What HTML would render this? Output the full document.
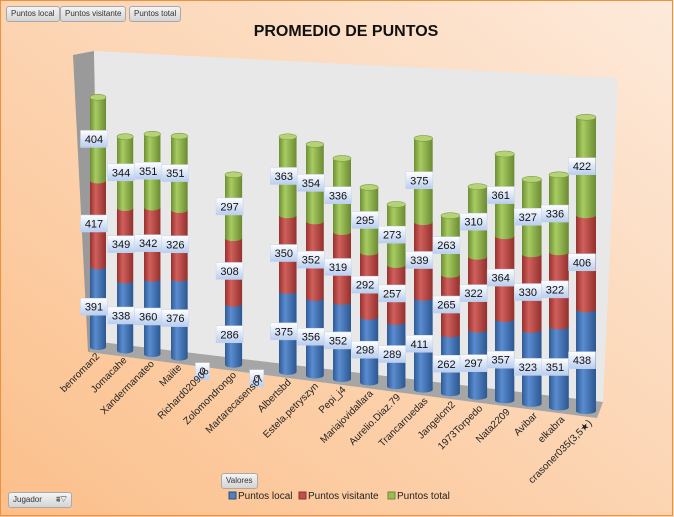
<!DOCTYPE html>
<html><head><meta charset="utf-8"><style>
html,body{margin:0;padding:0}
body{width:674px;height:517px;overflow:hidden;font-family:"Liberation Sans",sans-serif}
.btn{position:absolute;height:14px;border:1px solid #a9a9a9;border-radius:3px;background:linear-gradient(#f4f4f4,#d4d4d4);font-size:8px;line-height:14px;padding:0 4px;color:#333}
</style></head><body>
<svg width="674" height="517" style="position:absolute;left:0;top:0">
<defs>
<linearGradient id="bg" x1="1" y1="0" x2="0" y2="1"><stop offset="0" stop-color="#fdeadb"/><stop offset="1" stop-color="#fbbf8a"/></linearGradient>
<linearGradient id="gb" x1="0" x2="1"><stop offset="0" stop-color="#2f5b95"/><stop offset="0.35" stop-color="#5a8cd0"/><stop offset="1" stop-color="#2c5790"/></linearGradient>
<linearGradient id="gr" x1="0" x2="1"><stop offset="0" stop-color="#98302e"/><stop offset="0.35" stop-color="#d0605c"/><stop offset="1" stop-color="#93302d"/></linearGradient>
<linearGradient id="gg" x1="0" x2="1"><stop offset="0" stop-color="#6d8f33"/><stop offset="0.35" stop-color="#a8cc62"/><stop offset="1" stop-color="#6a8a31"/></linearGradient>
<linearGradient id="lb" x1="0" y1="0" x2="0" y2="1"><stop offset="0" stop-color="#ffffff"/><stop offset="1" stop-color="#b8cdf0"/></linearGradient>
</defs>
<rect x="0" y="0" width="674" height="517" fill="url(#bg)"/>
<rect x="0.5" y="0.5" width="672" height="515" fill="none" stroke="#f0903c"/>
<text x="346" y="36" text-anchor="middle" font-size="16" font-weight="bold" fill="#111">PROMEDIO DE PUNTOS</text>
<polygon points="73,55 94,51 100,342 88,352" fill="#9a9a9a"/>
<polygon points="94,51 618,78 603,402 100,342" fill="#e8e8e8"/>
<polygon points="100,342 603,402 597,418 88,352" fill="#a6a6a6"/>
<g id="plot"></g>
<g>
<rect x="229" y="492" width="7" height="7" fill="#4f81bd" stroke="#2c4d75"/>
<text x="238" y="499" font-size="10" fill="#222">Puntos local</text>
<rect x="299" y="492" width="7" height="7" fill="#c0504d" stroke="#8c3230"/>
<text x="308" y="499" font-size="10" fill="#222">Puntos visitante</text>
<rect x="388" y="492" width="7" height="7" fill="#9bbb59" stroke="#6b8a35"/>
<text x="397" y="499" font-size="10" fill="#222">Puntos total</text>
</g>
</svg>
<div class="btn" style="left:6px;top:6px">Puntos local</div>
<div class="btn" style="left:60px;top:6px">Puntos visitante</div>
<div class="btn" style="left:129px;top:6px">Puntos total</div>
<div class="btn" style="left:221px;top:473px">Valores</div>
<div class="btn" style="left:8px;top:492px;width:54px">Jugador <span style="float:right">⩩▽</span></div>
<script>
const categories=["benroman2","Jomacahe","Xandermanateo","Maiite","Richard020906","Zolomondrongo","Martarecasens67","Albertsbd","Estela.petryszyn","Pepi_j4","Mariajovidallara","Aurelio.Diaz.79","Trancarruedas","Jangelcm2","1973Torpedo","Nata2209","Avibar","elkabra","crasoner035(3,5★)"];
const local=[391,338,360,376,0,286,0,375,356,352,298,289,411,262,297,357,323,351,438];
const visitante=[417,349,342,326,0,308,0,350,352,319,292,257,339,265,322,364,330,322,406];
const total=[404,344,351,351,0,297,0,363,354,336,295,273,375,263,310,361,327,336,422];
const NS="http://www.w3.org/2000/svg";
const g=document.getElementById("plot");
const n=categories.length;
function bx(i){return 98+i*(586-98)/(n-1);}
function by(i){return 347+i*(411-347)/(n-1);}
function ky(i){return 0.206+i*(0.232-0.206)/(n-1);}
function cw(i){return 16+i*4/(n-1);}
function mk(t,a){const e=document.createElementNS(NS,t);for(const k in a)e.setAttribute(k,a[k]);g.appendChild(e);return e;}
const series=[[local,"url(#gb)","#3f6faa","local"],[visitante,"url(#gr)","#b04542","visitante"],[total,"url(#gg)","#8fb350","total"]];
for(let i=0;i<n;i++){
  const x=bx(i),y0=by(i),k=ky(i),w=cw(i);
  let y=y0;const labs=[];
  series.forEach(s=>{
    const v=s[0][i];if(v<=0)return;
    const h=v*k;
    const top=y-h;
    const r=mk("rect",{x:x-w/2,y:top,width:w,height:h,fill:s[1]});
    
    
    const el=mk("ellipse",{cx:x,cy:y,rx:w/2,ry:3,fill:s[1]});
    
    
    labs.push([v,(y+top)/2]);
    y=top;
  });
  if(y<y0){
    const cap=mk("ellipse",{cx:x,cy:y,rx:w/2,ry:3,fill:"#b4d276",stroke:"#7c9c40","stroke-width":"0.6"});
    
    
  } else {
    labs.push([0,y0+10]);
  }
  labs.forEach(l=>{
    const bw=l[0]===0?14:27;
    const bxp=x-4-bw/2,byp=l[1]-8.5;
    const rb=mk("rect",{x:bxp,y:byp,width:bw,height:17,fill:"url(#lb)",stroke:"#c8d4e8","stroke-width":"0.5"});
    
    
    const t=mk("text",{x:bxp+bw/2,y:byp+12.5,"text-anchor":"middle","font-size":"11",fill:"#111"});
    t.textContent=l[0];
    
    
  });
  const lx=x+2+i*0.25,ly=y0+10+i*0.15;
  const ct=mk("text",{x:lx,y:ly,"text-anchor":"end","font-size":"10",fill:"#222",transform:"rotate(-45 "+lx+" "+ly+")"});
  ct.textContent=categories[i];
  
  
}
</script>
</body></html>
